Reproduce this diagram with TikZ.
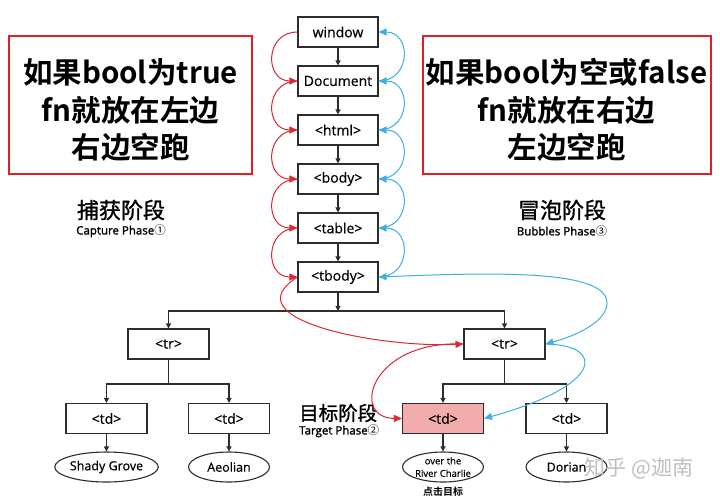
\documentclass[tikz,border=0pt]{standalone}
\usepackage{fontspec}
\setmainfont{Open Sans}
\newfontfamily\boxfont{Open Sans}[FakeBold=0.5]
\newfontfamily\semifont{Open Sans}[FakeBold=1.6]
\newfontfamily\cjk{Noto Sans CJK SC}[BoldFont={Noto Sans CJK SC Bold}]
\newfontfamily\cjkm{Noto Sans CJK SC}[FakeBold=1.2]
\usetikzlibrary{arrows.meta,shapes.geometric}
\definecolor{boxred}{RGB}{226,30,38}
\definecolor{arcred}{RGB}{222,40,50}
\definecolor{arcblue}{RGB}{60,176,226}
\definecolor{pinkfill}{RGB}{243,172,172}
\definecolor{edge}{RGB}{45,45,45}
\tikzset{
  dombox/.style={draw=edge, line width=1.1pt, minimum width=80pt, minimum height=30pt, inner sep=0pt, font=\boxfont\fontsize{14}{16}\selectfont},
  leaf/.style={draw=edge, line width=1.1pt, ellipse, minimum width=81pt, minimum height=30pt, inner sep=0pt, font=\boxfont\fontsize{12.5}{14}\selectfont},
  tarr/.style={draw=edge, line width=1.1pt, -{Triangle[length=5pt,width=5pt]}},
  tline/.style={draw=edge, line width=1.1pt},
  redarc/.style={draw=arcred, line width=1pt, -{Triangle[length=8pt,width=7pt]}},
  bluearc/.style={draw=arcblue, line width=1pt, -{Triangle[length=8pt,width=7pt]}},
  bluearc2/.style={draw=arcblue, line width=1pt, {Triangle[length=8pt,width=7pt]}-{Triangle[length=8pt,width=7pt]}},
  bignote/.style={align=center, font=\cjk\bfseries\fontsize{29.5}{37.5}\selectfont},
  notebox/.style={draw=boxred, line width=2.5pt, inner sep=0pt},
  phase/.style={font=\cjkm\fontsize{22}{25}\selectfont},
  phasesub/.style={font=\semifont\fontsize{11.5}{12}\selectfont},
}
\begin{document}
\begin{tikzpicture}[x=1pt,y=-1pt]
\useasboundingbox[fill=white] (0,0) rectangle (720,501);

% note boxes
\node[notebox, minimum width=243pt, minimum height=138pt] (noteL) at (130.5,105) {};
\node[bignote] (noteLt) at (130.5,110) {如果bool为true\\fn就放在左边\\右边空跑};
\node[notebox, minimum width=288pt, minimum height=138pt] (noteR) at (567,105) {};
\node[bignote] (noteRt) at (566.5,110) {如果bool为空或false\\fn就放在右边\\左边空跑};

% phase labels
\node[phase] (capL) at (121,210) {捕获阶段};
\node[phasesub] (capS) at (121,231) {Capture Phase{\cjk ①}};
\node[phase] (bubL) at (562,210) {冒泡阶段};
\node[phasesub] (bubS) at (562,231) {Bubbles Phase{\cjk ③}};
\node[phase, anchor=west, inner sep=0pt, font=\cjkm\fontsize{19.5}{22}\selectfont] (tarL) at (299,413) {目标阶段};
\node[phasesub, anchor=west, inner sep=0pt] (tarS) at (299,431) {Target Phase{\cjk ②}};

% DOM chain
\node[dombox] (window) at (338,32) {window};
\node[dombox] (Document) at (338,81) {Document};
\node[dombox] (html) at (338,130) {<html>};
\node[dombox] (body) at (338,179) {<body>};
\node[dombox] (table) at (338,228) {<table>};
\node[dombox] (tbody) at (338,277) {<tbody>};

\draw[tarr] (window) -- (Document);
\draw[tarr] (Document) -- (html);
\draw[tarr] (html) -- (body);
\draw[tarr] (body) -- (table);
\draw[tarr] (table) -- (tbody);

% rows
\node[dombox, minimum width=81pt] (trL) at (168.5,344) {<tr>};
\node[dombox, minimum width=81pt] (trR) at (504.5,344) {<tr>};
\coordinate (jT) at (338,311);
\draw[tarr] (tbody) -- (jT);
\draw[tarr] (jT) -| (trL);
\draw[tarr] (jT) -| (trR);

% cells
\node[dombox, minimum width=81pt] (td1) at (106.5,418.5) {<td>};
\node[dombox, minimum width=81pt] (td2) at (229,418.5) {<td>};
\node[dombox, minimum width=81pt, fill=pinkfill] (td3) at (443,418.5) {<td>};
\node[dombox, minimum width=81pt] (td4) at (566.5,418.5) {<td>};
\coordinate (jL) at (168.5,384);
\coordinate (jR) at (504.5,384);
\draw[tline] (trL) -- (jL);
\draw[tarr] (jL) -| (td1);
\draw[tarr] (jL) -| (td2);
\draw[tline] (trR) -- (jR);
\draw[tarr] (jR) -| (td3);
\draw[tarr] (jR) -| (td4);

% leaves
\node[leaf] (e1) at (106.5,467) {Shady Grove};
\node[leaf] (e2) at (229,467) {Aeolian};
\node[leaf, align=center, font=\boxfont\fontsize{9.5}{12.5}\selectfont] (e3) at (443,467) {over the\\River Charlie};
\node[leaf] (e4) at (566.5,467) {Dorian};
\draw[tarr] (td1) -- (e1);
\draw[tarr] (td2) -- (e2);
\draw[tarr] (td3) -- (e3);
\draw[tarr] (td4) -- (e4);
\node[font=\cjk\bfseries\fontsize{10}{12}\selectfont] (click) at (443,492) {点击目标};

% capture arcs
\foreach \a/\b in {window/Document, Document/html, html/body, body/table, table/tbody}
  \draw[redarc] (\a.west) .. controls +(-33,0) and +(-33,0) .. (\b.west);
\draw[redarc] (tbody.west) .. controls (230,320) and (380,348) .. (trR.west);
\draw[redarc] (trR.west) .. controls (370,340) and (350,418) .. (td3.west);

% bubble arcs
\foreach \a/\b in {window/Document, Document/html, html/body, body/table, table/tbody}
  \draw[bluearc] (\b.east) .. controls +(33,0) and +(33,0) .. (\a.east);
\draw[bluearc2] (tbody.east) .. controls (500,272) and (607,270) .. (607,303)
  .. controls (607,322) and (575,336) .. (trR.east);
\draw[bluearc] (trR.east) .. controls (605,345) and (605,385) .. (td3.east);

% watermark
\node[text=black!25, font=\cjk\fontsize{21}{23}\selectfont] (wm) at (639,468) {知乎 @迦南};
\end{tikzpicture}
\end{document}
